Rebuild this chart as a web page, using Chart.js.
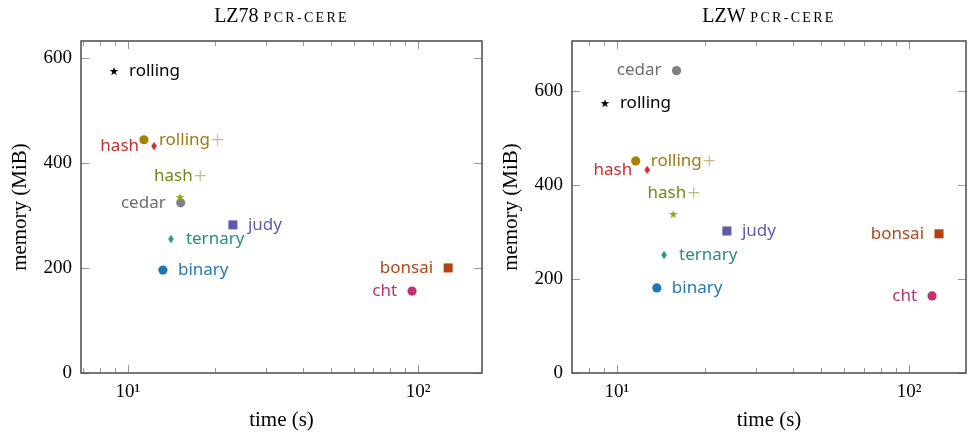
<!DOCTYPE html>
<html>
<head>
<meta charset="utf-8">
<script src="https://cdn.jsdelivr.net/npm/chart.js@4"></script>
<style>
    * { margin: 0; padding: 0; }
    body { width: 969px; height: 436px; background: #fff; position: relative; overflow: hidden; }
    .panel { position: absolute; top: 0; height: 436px; }
    .title {
        position: absolute; top: 0; height: 30px; line-height: 30px;
        text-align: center; color: #000; white-space: nowrap;
        font-family: "Liberation Serif", serif; font-size: 20px;
    }
    .title span { font-size: 14px; letter-spacing: 2.3px; text-transform: uppercase; }
</style>
</head>
<body>
<div class="panel" style="left:0; width:485px;">
    <div class="title" style="left:81px; width:401px;">LZ78 <span>pcr-cere</span></div>
    <canvas id="lz78" width="485" height="436"></canvas>
</div>
<div class="panel" style="left:485px; width:484px;">
    <div class="title" style="left:87px; width:394px;">LZW <span>pcr-cere</span></div>
    <canvas id="lzw" width="484" height="436"></canvas>
</div>
<script>
//  D A T A  //
const names = ["rolling", "rolling+", "hash", "hash+", "cedar", "judy", "ternary", "binary", "bonsai", "cht"];

const lz78Time = [8.95, 11.35, 12.3, 15.1, 15.2, 23.0, 14.06, 13.2, 126.9, 95.3];
const lz78Mem  = [575, 444, 432, 335, 324, 282, 255, 196, 200, 156];

const lzwTime = [9.1, 11.6, 12.7, 15.6, 16.0, 23.8, 14.5, 13.7, 126.7, 119.9];
const lzwMem  = [574, 451, 432, 338, 643, 302, 251, 181, 296, 164];

const xTicks = [10, 100];
const yTicks = [0, 200, 400, 600];

//  S T Y L E S  //
const markerColors = ["#000000", "#a88000", "#d42a2a", "#8ea51f", "#808080", "#5b5baa", "#2a9a88", "#1f77b4", "#b5420e", "#c3306f"];
const labelColors  = ["#000000", "#a07a10", "#c8302f", "#6f8a1a", "#6e6e6e", "#5c5ca8", "#2a8c80", "#2878b5", "#b0481c", "#b8326e"];
const markerShapes = ["star", "circle", "diamond", "star", "circle", "square", "diamond", "circle", "square", "circle"];
const labelSides   = ["right", "right", "left", "above", "left", "right", "right", "right", "left", "left"];

const serif = '"Liberation Serif", serif';
const sans = '"Noto Sans", sans-serif';
const sup = { 1: "¹", 2: "²", 3: "³" };

function makeMarker(shape, color) {
    if (shape === "circle") return "circle";
    if (shape === "square") return "rect";
    const c = document.createElement("canvas");
    c.width = 12; c.height = 12;
    const g = c.getContext("2d");
    g.fillStyle = color;
    g.beginPath();
    if (shape === "diamond") {
        g.moveTo(6, 1.8); g.lineTo(8.8, 6); g.lineTo(6, 10.2); g.lineTo(3.2, 6);
    } else {
        for (let k = 0; k < 10; k++) {
            const r = k % 2 === 0 ? 4.6 : 1.8;
            const a = -Math.PI / 2 + k * Math.PI / 5;
            const px = 6 + r * Math.cos(a), py = 6.5 + r * Math.sin(a);
            k === 0 ? g.moveTo(px, py) : g.lineTo(px, py);
        }
    }
    g.closePath();
    g.fill();
    return c;
}

function markerRadius(shape) {
    if (shape === "square") return 6.4;
    if (shape === "circle") return 4.6;
    return 6;
}

//  F R A M E  +  L A B E L S  //
const framePlugin = {
    id: "frame",
    beforeDatasetsDraw(chart) {
        const { ctx, chartArea: a, scales: { x, y } } = chart;
        ctx.save();
        ctx.strokeStyle = "#9a9a9a";
        ctx.lineWidth = 1;
        ctx.beginPath();
        for (let d = 1; d <= 1000; d *= 10) {
            for (let m = 1; m < 10; m++) {
                const v = d * m;
                if (v < x.min || v > x.max) continue;
                const px = Math.round(x.getPixelForValue(v)) + 0.5;
                const len = m === 1 ? 8 : 5;
                ctx.moveTo(px, a.bottom); ctx.lineTo(px, a.bottom - len);
                ctx.moveTo(px, a.top); ctx.lineTo(px, a.top + len);
            }
        }
        yTicks.forEach(v => {
            const py = Math.round(y.getPixelForValue(v)) + 0.5;
            ctx.moveTo(a.left, py); ctx.lineTo(a.left + 8, py);
            ctx.moveTo(a.right, py); ctx.lineTo(a.right - 8, py);
        });
        ctx.stroke();
        ctx.strokeStyle = "#4a4a4a";
        ctx.lineWidth = 1.5;
        ctx.strokeRect(a.left, a.top, a.right - a.left, a.bottom - a.top);
        ctx.restore();
    },
    afterDatasetsDraw(chart) {
        const ctx = chart.ctx;
        const mainFont = "17px " + sans;
        const plusFont = "23px " + serif;
        ctx.save();
        ctx.textBaseline = "middle";
        ctx.textAlign = "left";
        chart.data.datasets.forEach((ds, i) => {
            const pt = chart.getDatasetMeta(i).data[0];
            const text = ds.label;
            const main = text.endsWith("+") ? text.slice(0, -1) : text;
            const plus = text.endsWith("+") ? "+" : "";
            ctx.font = mainFont;
            const wMain = ctx.measureText(main).width;
            ctx.font = plusFont;
            const wPlus = plus ? ctx.measureText(plus).width : 0;
            const wAll = wMain + wPlus;
            let tx, ty = pt.y;
            if (ds.labelSide === "right") tx = pt.x + 15;
            else if (ds.labelSide === "left") tx = pt.x - 15 - wAll;
            else { tx = pt.x - wAll / 2; ty = pt.y - 21; }
            ctx.fillStyle = ds.labelColor;
            ctx.font = mainFont;
            ctx.fillText(main, tx, ty);
            if (plus) {
                ctx.font = plusFont;
                ctx.globalAlpha = 0.55;
                ctx.fillText(plus, tx + wMain + 1, ty + 1);
                ctx.globalAlpha = 1;
            }
        });
        ctx.restore();
    }
};

//  C H A R T S  //
function makeChart(id, times, mems, xMin, xMax, yMax, yWidth, yTitlePad) {
    const datasets = names.map((n, i) => ({
        label: n,
        data: [{ x: times[i], y: mems[i] }],
        pointStyle: makeMarker(markerShapes[i], markerColors[i]),
        pointRadius: markerRadius(markerShapes[i]),
        backgroundColor: markerColors[i],
        borderColor: markerColors[i],
        borderWidth: 0,
        labelSide: labelSides[i],
        labelColor: labelColors[i]
    }));

    return new Chart(document.getElementById(id), {
        type: "scatter",
        data: { datasets: datasets },
        options: {
            responsive: false,
            animation: false,
            events: [],
            layout: { autoPadding: false, padding: { top: 41, right: 3, left: 0, bottom: 0 } },
            plugins: { legend: { display: false }, tooltip: { enabled: false } },
            scales: {
                x: {
                    type: "logarithmic",
                    min: xMin,
                    max: xMax,
                    grid: { display: false, drawTicks: false },
                    border: { display: false },
                    afterBuildTicks: s => { s.ticks = xTicks.map(v => ({ value: v })); },
                    afterFit: s => { s.height = 63; s.paddingLeft = 0; s.paddingRight = 0; },
                    ticks: {
                        autoSkip: false,
                        maxRotation: 0,
                        padding: 8,
                        color: "#000",
                        font: { family: serif, size: 19 },
                        callback: v => "10" + sup[Math.round(Math.log10(v))]
                    },
                    title: {
                        display: true,
                        text: "time (s)",
                        color: "#000",
                        font: { family: serif, size: 21 },
                        padding: { top: 0, bottom: 3 }
                    }
                },
                y: {
                    min: 0,
                    max: yMax,
                    grid: { display: false, drawTicks: false },
                    border: { display: false },
                    afterBuildTicks: s => { s.ticks = yTicks.map(v => ({ value: v })); },
                    afterFit: s => { s.width = yWidth; s.paddingTop = 0; s.paddingBottom = 0; },
                    ticks: {
                        padding: 9,
                        color: "#000",
                        font: { family: serif, size: 19 }
                    },
                    title: {
                        display: true,
                        text: "memory (MiB)",
                        color: "#000",
                        font: { family: serif, size: 21 },
                        padding: { top: yTitlePad - 1, bottom: 0 }
                    }
                }
            }
        },
        plugins: [framePlugin]
    });
}

makeChart("lz78", lz78Time, lz78Mem, 6.89, 166, 632, 81, 9);
makeChart("lzw", lzwTime, lzwMem, 7.02, 156.7, 706, 87, 15);
</script>
</body>
</html>
